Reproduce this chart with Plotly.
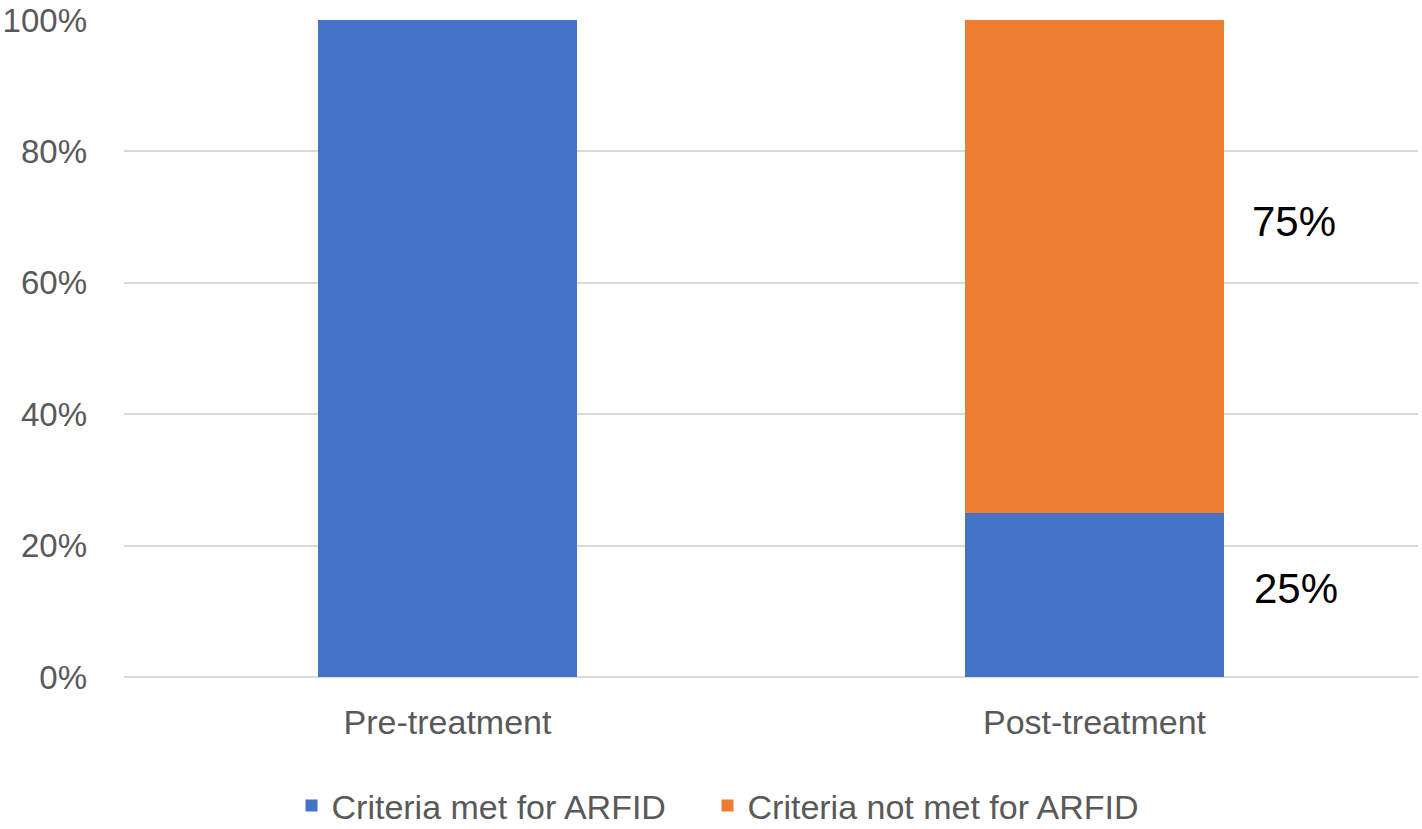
import plotly.graph_objects as go

categories = ["Pre-treatment", "Post-treatment"]
met = [1.00, 0.25]
not_met = [0.00, 0.75]
series_names = ["Criteria met for ARFID", "Criteria not met for ARFID"]
tick_vals = [0, 0.2, 0.4, 0.6, 0.8, 1.0]
tick_text = ["0%", "20%", "40%", "60%", "80%", "100%"]
label_texts = ["75%", "25%"]
label_x = [1.308, 1.312]
label_y = [0.694, 0.134]

FONT = "Liberation Sans, Arial, sans-serif"

fig = go.Figure()
fig.add_trace(go.Bar(x=categories, y=met, name=series_names[0],
                     marker=dict(color="#4472C4", line=dict(width=0)), width=0.4,
                     legendwidth=371))
fig.add_trace(go.Bar(x=categories, y=not_met, name=series_names[1],
                     marker=dict(color="#ED7D31", line=dict(width=0)), width=0.4))

for t, xv, yv in zip(label_texts, label_x, label_y):
    fig.add_annotation(x=xv, y=yv, xref="x", yref="y", text=t, showarrow=False,
                       xanchor="center", yanchor="middle",
                       font=dict(family=FONT, size=42, color="#000000"))

fig.update_layout(
    barmode="stack",
    width=1422, height=829,
    margin=dict(l=124, r=4, t=20, b=152, autoexpand=False),
    paper_bgcolor="white", plot_bgcolor="white",
    font=dict(family=FONT, color="#595959"),
    showlegend=True,
    legend=dict(orientation="h", xref="container", yref="container",
                x=0.205, xanchor="left", y=0.028, yanchor="middle",
                font=dict(family=FONT, size=34, color="#595959"),
                itemwidth=30, traceorder="normal"),
)
fig.update_xaxes(showgrid=False, showline=False, ticks="", automargin=False,
                 tickfont=dict(family=FONT, size=34, color="#595959"),
                 ticklabelstandoff=22,
                 range=[-0.5, 1.5])
fig.update_yaxes(range=[0, 1.0], tickvals=tick_vals, ticktext=tick_text,
                 automargin=False,
                 showgrid=True, gridcolor="#D9D9D9", gridwidth=2,
                 zeroline=True, zerolinecolor="#D9D9D9", zerolinewidth=2,
                 showline=False, ticks="", ticklabelstandoff=36,
                 tickfont=dict(family=FONT, size=33, color="#595959"))

fig.write_html("out.html")
